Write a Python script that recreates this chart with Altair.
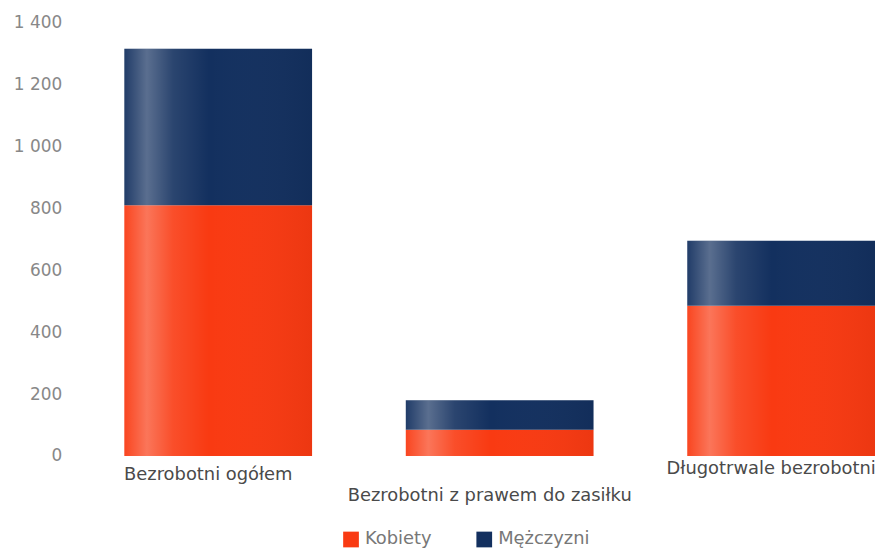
import altair as alt
import pandas as pd

categories = ["Bezrobotni ogółem", "Bezrobotni z prawem do zasiłku", "Długotrwale bezrobotni"]
series = ["Kobiety", "Mężczyzni"]
kobiety = [810, 85, 485]
mezczyzni = [505, 95, 210]
colors = ["#F93A12", "#13305F"]

rows = []
for i, c in enumerate(categories):
    rows.append({"kategoria": c, "seria": series[0], "ord": 0, "wartosc": kobiety[i]})
    rows.append({"kategoria": c, "seria": series[1], "ord": 1, "wartosc": mezczyzni[i]})
df = pd.DataFrame(rows)

FONT = "DejaVu Sans"

x_enc = alt.X(
    "kategoria:N",
    sort=categories,
    title=None,
    scale=alt.Scale(paddingInner=0.333, paddingOuter=0.0),
    axis=alt.Axis(
        labelAngle=0,
        domain=False,
        ticks=False,
        labelFont=FONT,
        labelFontSize=18,
        labelColor="#4a4a4a",
        labelLimit=0,
        labelOffset=-10,
        labelPadding={
            "condition": [
                {"test": "datum.value === 'Bezrobotni ogółem'", "value": 10},
                {"test": "datum.value === 'Bezrobotni z prawem do zasiłku'", "value": 31},
            ],
            "value": 4,
        },
    ),
)
y_enc = alt.Y(
    "wartosc:Q",
    title=None,
    stack="zero",
    scale=alt.Scale(domain=[0, 1400], nice=False),
    axis=alt.Axis(
        values=[0, 200, 400, 600, 800, 1000, 1200, 1400],
        grid=False,
        domain=False,
        ticks=False,
        labelFont=FONT,
        labelFontSize=17,
        labelColor="#888888",
        labelPadding=63,
        labelExpr="replace(format(datum.value, ','), ',', ' ')",
    ),
)
order_enc = alt.Order("ord:Q", sort="ascending")

base = alt.Chart(df).mark_bar().encode(
    x=x_enc,
    y=y_enc,
    order=order_enc,
    color=alt.Color(
        "seria:N",
        sort=series,
        scale=alt.Scale(domain=series, range=colors),
        legend=alt.Legend(
            title=None,
            orient="none",
            direction="horizontal",
            legendX=219,
            legendY=511,
            symbolType="square",
            symbolSize=250,
            symbolStrokeWidth=0,
            labelFont=FONT,
            labelFontSize=18,
            labelColor="#777777",
            labelOffset=5,
            columnPadding=43,
        ),
    ),
)

shine = alt.Gradient(
    gradient="linear",
    x1=0, x2=1, y1=0, y2=0,
    stops=[
        alt.GradientStop(offset=0.0, color="rgba(255,255,255,0.06)"),
        alt.GradientStop(offset=0.12, color="rgba(255,255,255,0.30)"),
        alt.GradientStop(offset=0.26, color="rgba(255,255,255,0.10)"),
        alt.GradientStop(offset=0.45, color="rgba(255,255,255,0.0)"),
        alt.GradientStop(offset=1.0, color="rgba(0,0,0,0.05)"),
    ],
)

overlay = alt.Chart(df).mark_bar(fill=shine).encode(
    x=x_enc,
    y=y_enc,
    order=order_enc,
    detail="seria:N",
)

chart = alt.layer(base, overlay).properties(
    width=755,
    height=436,
    autosize=alt.AutoSizeParams(type="none"),
    padding={"left": 117, "top": 13, "right": 0, "bottom": 93},
).configure_view(stroke=None)

chart.save("out.html", embed_options={"renderer": "svg", "actions": False})
